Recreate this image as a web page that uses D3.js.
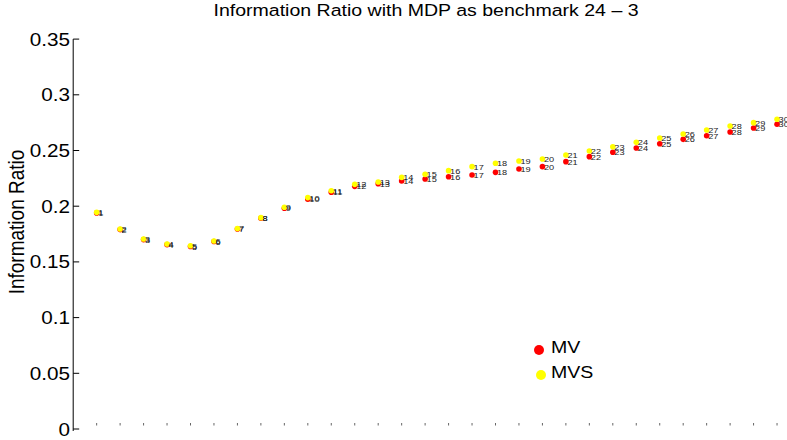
<!DOCTYPE html>
<html>
<head>
<meta charset="utf-8">
<script src="https://cdn.jsdelivr.net/npm/d3@7"></script>
<style>
    body { margin: 0; background: #fff; }
    text { font-family: "Liberation Sans", Arial, sans-serif; }
</style>
</head>
<body>
<div id="chart"></div>
<script>

// portfolio numbers 1..30
var portfolios = d3.range(1, 31);

// information ratio, MV (red)
var mvValues = [0.1940, 0.1790, 0.1700, 0.1655, 0.1638, 0.1683, 0.1795, 0.1892, 0.1982, 0.2062,
    0.2125, 0.2178, 0.2202, 0.2226, 0.2244, 0.2265, 0.2280, 0.2304, 0.2334, 0.2355,
    0.2400, 0.2445, 0.2484, 0.2522, 0.2561, 0.2600, 0.2633, 0.2666, 0.2702, 0.2735];

// information ratio, MVS (yellow)
var mvsValues = [0.1945, 0.1795, 0.1706, 0.1661, 0.1645, 0.1688, 0.1800, 0.1897, 0.1990, 0.2077,
    0.2139, 0.2196, 0.2217, 0.2259, 0.2286, 0.2319, 0.2355, 0.2385, 0.2406, 0.2424,
    0.2460, 0.2496, 0.2534, 0.2573, 0.2612, 0.2648, 0.2684, 0.2720, 0.2750, 0.2780];

var yTicks = [0, 0.05, 0.1, 0.15, 0.2, 0.25, 0.3, 0.35];
var yTickLabels = ["0", "0.05", "0.1", "0.15", "0.2", "0.25", "0.3", "0.35"];

var seriesNames = ["MV", "MVS"];
var seriesColors = ["#ff0000", "#ffff00"];

var width = 787, height = 440, svg, x, y;
var stretch = 1.15;   // the picture is a bit wider than tall, text looks stretched

function init() {
    setChart();
    drawAxes();
    drawPoints();
    drawLegend();
}

function setChart() {
    svg = d3.select("#chart").append("svg")
        .attr("width", width)
        .attr("height", height);

    x = d3.scaleLinear().domain([0, 31]).range([73.2, 800.5]);
    y = d3.scaleLinear().domain([0, 0.35]).range([429, 39.1]);
}

// text placed at (px, py) and stretched horizontally
function addText(px, py, str, size, anchor) {
    return svg.append("text")
        .attr("transform", "translate(" + px + "," + py + ") scale(" + stretch + ",1)")
        .attr("text-anchor", anchor || "start")
        .style("font-size", size + "px")
        .text(str);
}

function drawAxes() {
    // title
    addText(426, 15.5, "Information Ratio with MDP as benchmark 24 \u2013 3", 17, "middle");

    // y label
    svg.append("text")
        .attr("transform", "translate(24,222) scale(" + stretch + ",1) rotate(-90)")
        .attr("text-anchor", "middle")
        .style("font-size", "19px")
        .text("Information Ratio");

    // y axis line
    svg.append("line")
        .attr("x1", x(0)).attr("x2", x(0))
        .attr("y1", y(0.35)).attr("y2", 431)
        .attr("stroke", "#000").attr("stroke-width", 1);

    // y ticks (inside)
    svg.selectAll(".ytick")
        .data(yTicks)
        .join("line")
        .attr("class", "ytick")
        .attr("x1", x(0)).attr("x2", x(0) + 6)
        .attr("y1", d => y(d)).attr("y2", d => y(d))
        .attr("stroke", "#000");

    yTicks.forEach(function (d, i) {
        addText(70, y(d) + 6.5, yTickLabels[i], 18, "end");
    });

    // x ticks only, no axis line
    svg.selectAll(".xtick")
        .data(portfolios)
        .join("line")
        .attr("class", "xtick")
        .attr("x1", d => x(d)).attr("x2", d => x(d))
        .attr("y1", y(0) - 6).attr("y2", y(0) - 3.5)
        .attr("stroke", "#666");
}

function drawPoints() {
    var all = [mvValues, mvsValues];

    all.forEach(function (vals, s) {
        var g = svg.append("g").attr("class", "series-" + seriesNames[s]);

        g.selectAll("circle")
            .data(vals)
            .join("circle")
            .attr("cx", (d, i) => x(portfolios[i]))
            .attr("cy", d => y(d))
            .attr("r", 2.8)
            .attr("fill", seriesColors[s]);

        g.selectAll("text")
            .data(vals)
            .join("text")
            .attr("transform", (d, i) => "translate(" + (x(portfolios[i]) + 1.5) + "," + (y(d) + 3) + ") scale(" + stretch + ",1)")
            .style("font-size", "8px")
            .attr("fill", "#222")
            .text((d, i) => portfolios[i]);
    });
}

function drawLegend() {
    var lx = [539, 541], ly = [350, 375];

    seriesNames.forEach(function (name, i) {
        svg.append("circle")
            .attr("cx", lx[i]).attr("cy", ly[i])
            .attr("r", 5)
            .attr("fill", seriesColors[i]);
        addText(551, ly[i] + 3, name, 17);
    });
}

window.onload = init;

</script>
</body>
</html>
